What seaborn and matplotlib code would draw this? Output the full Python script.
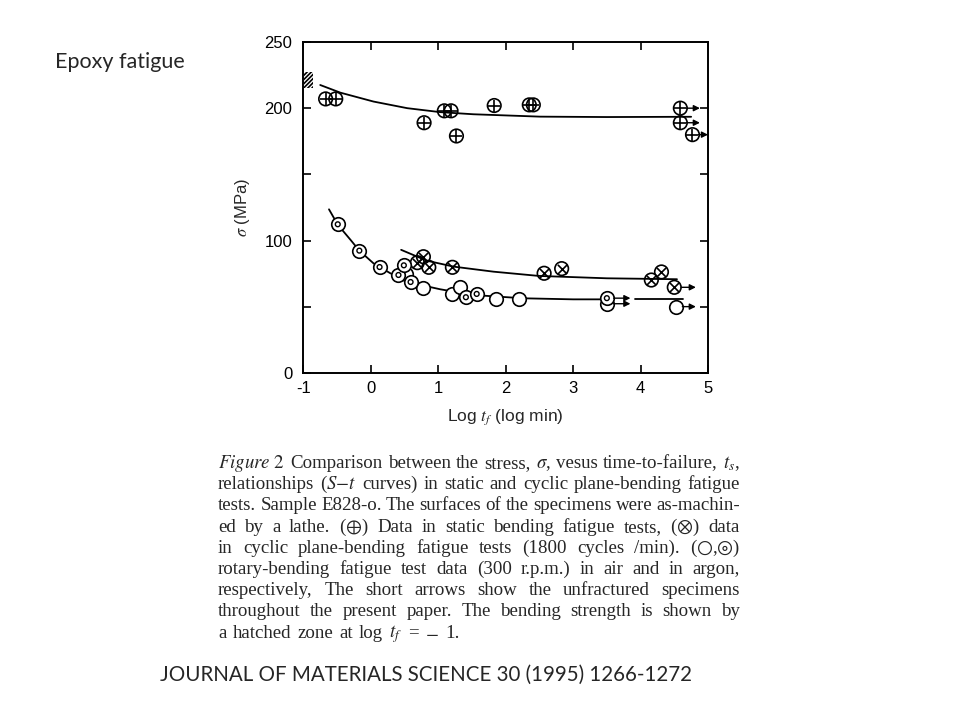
import matplotlib
matplotlib.use("Agg")
import matplotlib.pyplot as plt
import seaborn as sns

# -----------------------------
# Data
# -----------------------------
# static bending (circle with plus)
static_x = [-0.67, -0.52, 0.79, 1.09, 1.19, 1.27, 1.83, 2.35, 2.41, 4.59, 4.59, 4.77]
static_y = [207, 207, 189, 198, 198, 179, 202, 202.5, 202.5, 200, 189, 180]
static_curve_x = [-0.75, -0.45, 0.04, 0.54, 1.03, 1.52, 2.51, 3.5, 4.75]
static_curve_y = [217.5, 211.7, 205, 200, 197, 195.4, 193.6, 193.3, 193.5]

# cyclic plane bending (circle with cross)
cyclic_x = [0.78, 0.69, 0.86, 1.21, 2.57, 2.83, 4.16, 4.31, 4.50]
cyclic_y = [87.8, 83.3, 79.8, 79.8, 75.3, 78.8, 70.2, 76.3, 64.7]
cyclic_curve_x = [0.45, 0.83, 1.23, 1.82, 2.49, 3.5, 4.54]
cyclic_curve_y = [93, 84.8, 80.3, 76.5, 73.3, 71.5, 70.8]

# rotary bending in argon (double circle) and in air (open circle)
argon_x = [-0.49, -0.17, 0.13, 0.41, 0.49, 0.59, 1.41, 1.57, 3.5]
argon_y = [112.3, 92.4, 80, 74, 81.3, 68.7, 57.2, 59.7, 56.5]
air_x = [0.52, 0.78, 1.21, 1.33, 1.85, 2.2, 3.5, 4.52]
air_y = [75, 64.4, 59.7, 65.2, 56.1, 55.6, 52.3, 50.1]
rotary_curve_x = [-0.62, -0.49, -0.3, -0.17, 0.04, 0.29, 0.63, 1.03, 1.52, 2.26, 3.0, 3.45]
rotary_curve_y = [123.6, 112, 100.5, 92.4, 82.8, 75.3, 67.7, 63.2, 58.9, 56.4, 55.6, 55.6]
rotary_tail_x = [3.92, 4.63]
rotary_tail_y = [56, 56]

# unfractured specimens: arrow start x, end x, y
arrow_x0 = [4.68, 4.68, 4.86, 4.60, 3.60, 3.60, 4.62]
arrow_x1 = [4.88, 4.88, 5.00, 4.82, 3.85, 3.85, 4.82]
arrow_y = [200, 189, 180, 64.7, 56.5, 52.3, 50.1]

# bending strength (hatched zone at log tf = -1)
strength_x = [-0.985, -0.86]
strength_lo = 215
strength_hi = 227

x_ticks = [-1, 0, 1, 2, 3, 4, 5]
y_ticks = [0, 50, 100, 150, 200, 250]
y_tick_labels = ["0", "", "100", "", "200", "250"]

caption_lines = [
    r"$\mathit{Figure\ 2}$ Comparison between the stress, $\sigma$, vesus time-to-failure, $t_s$,",
    r"relationships ($S$$-$$t$ curves) in static and cyclic plane-bending fatigue",
    r"tests. Sample E828-o. The surfaces of the specimens were as-machin-",
    r"ed by a lathe. ($\oplus$) Data in static bending fatigue tests, ($\otimes$) data",
    r"in cyclic plane-bending fatigue tests (1800 cycles /min). ($\bigcirc$,$\circledcirc$)",
    r"rotary-bending fatigue test data (300 r.p.m.) in air and in argon,",
    r"respectively, The short arrows show the unfractured specimens",
    r"throughout the present paper. The bending strength is shown by",
    r"a hatched zone at log $t_f$  =  $-$ 1.",
]


def split_words(line):
    """Split on spaces that are not inside $...$."""
    words, buf, in_math = [], "", False
    for ch in line:
        if ch == "$":
            in_math = not in_math
        if ch == " " and not in_math:
            if buf:
                words.append(buf)
            buf = ""
        else:
            buf += ch
    if buf:
        words.append(buf)
    return words


def justified_text(fig, lines, x0, x1, y0, dy, **kw):
    """Draw lines of text fully justified between x0 and x1 (pixels)."""
    renderer = fig.canvas.get_renderer()
    W, H = fig.bbox.width, fig.bbox.height
    probe1 = fig.text(0, 0, "a b", **kw)
    probe2 = fig.text(0, 0, "ab", **kw)
    space = (probe1.get_window_extent(renderer).width
             - probe2.get_window_extent(renderer).width)
    probe1.remove()
    probe2.remove()
    for i, line in enumerate(lines):
        y = 1 - (y0 + dy * i) / H
        words = split_words(line)
        arts = [fig.text(0, y, w, va="baseline", ha="left", **kw) for w in words]
        widths = [a.get_window_extent(renderer).width for a in arts]
        if i == len(lines) - 1:
            gap = space * 1.3
        else:
            gap = (x1 - x0 - sum(widths)) / max(len(words) - 1, 1)
        x = x0
        for a, w in zip(arts, widths):
            a.set_x(x / W)
            x += w + gap


# -----------------------------
# Plot
# -----------------------------
sns.set_style("ticks")
plt.rcParams["font.family"] = ["Liberation Sans", "DejaVu Sans"]
plt.rcParams["mathtext.fontset"] = "stix"
plt.rcParams["axes.unicode_minus"] = False
plt.rcParams["hatch.linewidth"] = 1.2

fig = plt.figure(figsize=(9.6, 7.2), dpi=100)
ax = fig.add_axes([0.316, 0.482, 0.4215, 0.4597])

k = "black"
ring = dict(marker="o", s=95, facecolor="none", edgecolor=k, linewidth=1.2, ax=ax, zorder=3)

# curves
sns.lineplot(x=static_curve_x, y=static_curve_y, color=k, lw=1.3, sort=False, ax=ax)
sns.lineplot(x=cyclic_curve_x, y=cyclic_curve_y, color=k, lw=1.3, sort=False, ax=ax)
sns.lineplot(x=rotary_curve_x, y=rotary_curve_y, color=k, lw=1.3, sort=False, ax=ax)
sns.lineplot(x=rotary_tail_x, y=rotary_tail_y, color=k, lw=1.3, sort=False, ax=ax)

# markers
sns.scatterplot(x=static_x, y=static_y, **ring)
sns.scatterplot(x=static_x, y=static_y, marker="+", s=80, color=k, linewidth=1.2, ax=ax, zorder=4)
sns.scatterplot(x=cyclic_x, y=cyclic_y, **ring)
sns.scatterplot(x=cyclic_x, y=cyclic_y, marker="x", s=45, color=k, linewidth=1.2, ax=ax, zorder=4)
sns.scatterplot(x=air_x, y=air_y, marker="o", s=95, facecolor="white", edgecolor=k,
                linewidth=1.2, ax=ax, zorder=3)
sns.scatterplot(x=argon_x, y=argon_y, marker="o", s=95, facecolor="white", edgecolor=k,
                linewidth=1.2, ax=ax, zorder=3)
sns.scatterplot(x=argon_x, y=argon_y, marker="o", s=12, facecolor="none", edgecolor=k,
                linewidth=1.0, ax=ax, zorder=4)

for x0, x1, yy in zip(arrow_x0, arrow_x1, arrow_y):
    ax.annotate("", xy=(x1, yy), xytext=(x0, yy),
                arrowprops=dict(arrowstyle="-|>", color=k, lw=1.0, mutation_scale=9,
                                shrinkA=0, shrinkB=0))

ax.fill_between(strength_x, strength_lo, strength_hi, facecolor="white",
                edgecolor=k, hatch="////////", linewidth=0)

ax.set_xlim(-1, 5)
ax.set_ylim(0, 250)
ax.set_xticks(x_ticks)
ax.set_yticks(y_ticks)
ax.set_yticklabels(y_tick_labels)
ax.tick_params(direction="in", top=True, right=True, length=6, width=1.2,
               labelsize=12, colors=k)
ax.tick_params(axis="x", pad=6)
ax.tick_params(axis="y", pad=8)
for sp in ax.spines.values():
    sp.set_linewidth(1.4)
    sp.set_color(k)
ax.set_xlabel(r"Log $\mathbf{\mathit{t}}_{\mathit{f}}$ (log min)", fontsize=12.5, labelpad=8)
ax.set_ylabel(r"$\sigma$ (MPa)", fontsize=12, labelpad=9)

# slide texts
fig.text(0.057, 0.914, "Epoxy fatigue", family=["Lato", "DejaVu Sans"], fontsize=15.5,
         va="center", ha="left")
justified_text(fig, caption_lines, 218, 740, 468, 21.2,
               family=["Liberation Serif", "DejaVu Serif"], fontsize=13.6)
fig.text(0.167, 1 - 675 / 720, "JOURNAL OF MATERIALS SCIENCE 30 (1995) 1266-1272",
         family=["Lato", "DejaVu Sans"], fontsize=14.8, va="center", ha="left")

fig.savefig("out.png", dpi=100, facecolor="white")
